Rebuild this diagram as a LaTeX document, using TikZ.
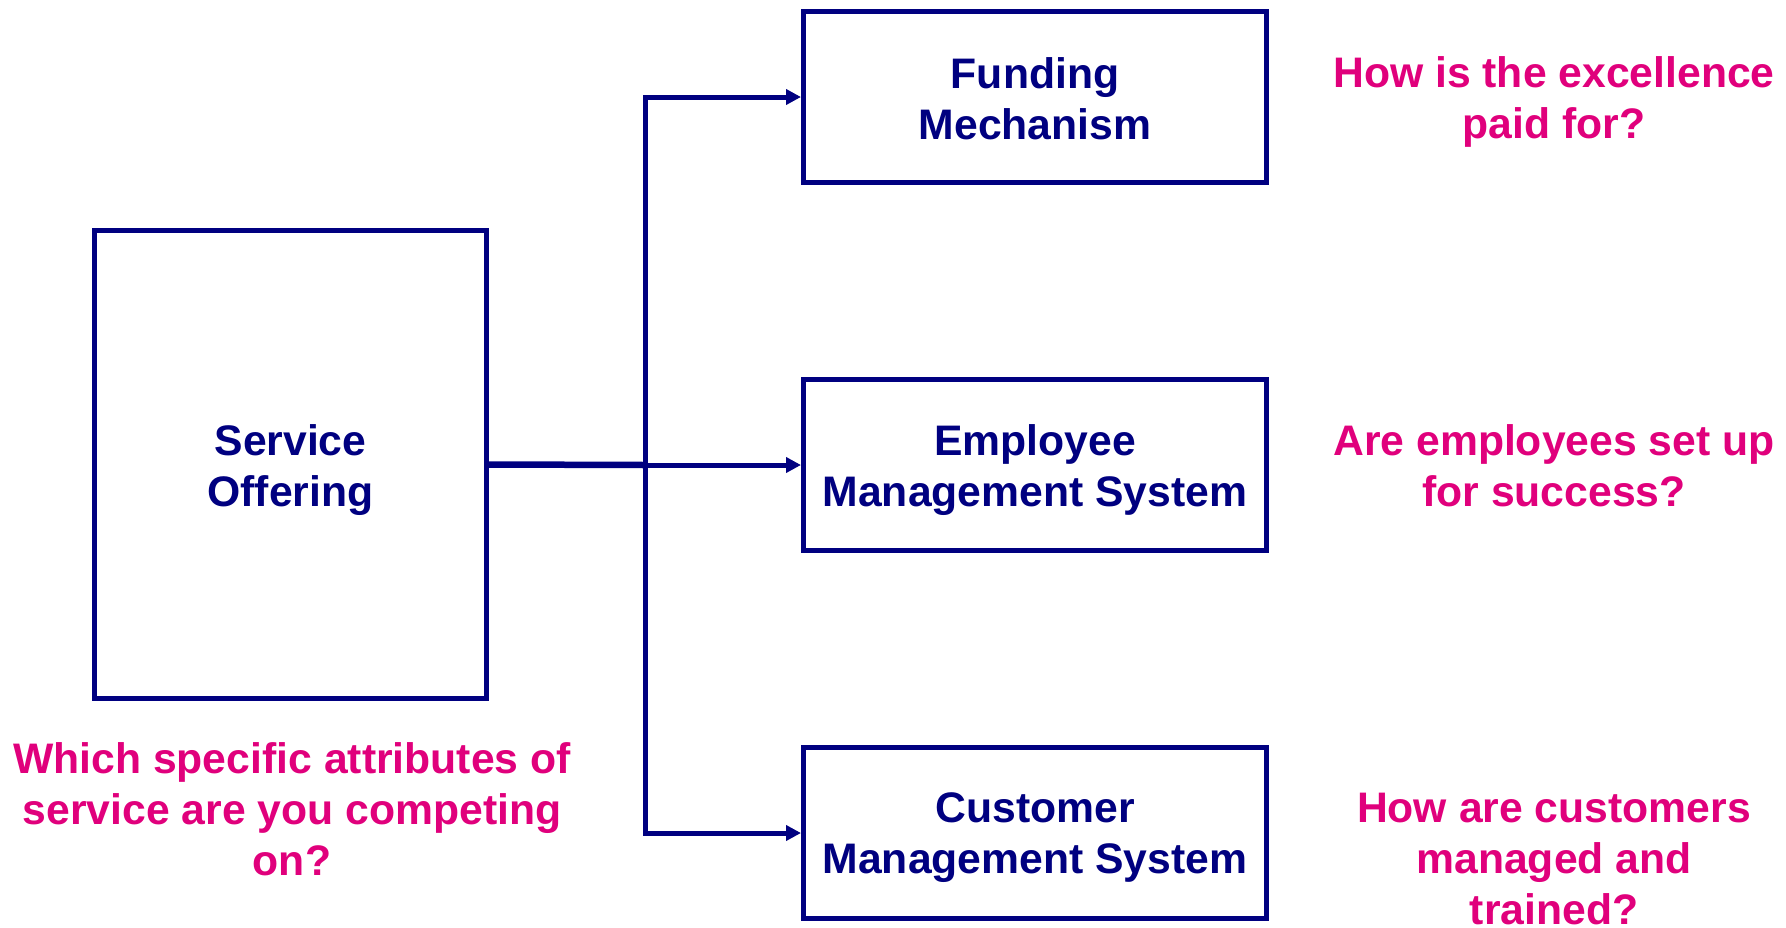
\documentclass[tikz,border=0pt]{standalone}
\usepackage{fontspec}
\setmainfont{Liberation Sans}
\usetikzlibrary{arrows.meta}
\definecolor{navyc}{RGB}{0,0,128}
\definecolor{pinkc}{RGB}{224,0,124}
\newcommand\lnA[1]{\hbox to 0pt{\hss#1\hss}}
\newcommand\twol[2]{\vtop{\baselineskip=51pt\lineskiplimit=-100pt\lnA{#1}\lnA{#2}}}
\newcommand\threel[3]{\vtop{\baselineskip=51pt\lineskiplimit=-100pt\lnA{#1}\lnA{#2}\lnA{#3}}}
\tikzset{
  boxnode/.style={draw=navyc, line width=5pt, rectangle, minimum width=463pt, minimum height=171pt, inner sep=0pt},
  boxtext/.style={text=navyc, font=\fontsize{42.7pt}{51pt}\selectfont\bfseries, inner sep=0pt, anchor=base},
  qtext/.style={text=pinkc, font=\fontsize{42.7pt}{51pt}\selectfont\bfseries, inner sep=0pt, anchor=base},
  conn/.style={draw=navyc, line width=5pt},
  arr/.style={conn, -{Triangle[length=15pt,width=15pt]}}
}
\begin{document}
\begin{tikzpicture}[x=1pt,y=-1pt]
\useasboundingbox (0,0) rectangle (1786,927);
% boxes
\node[boxnode, minimum width=392pt, minimum height=468pt] (svc) at (290.5,464.5) {};
\node[boxnode] (fund) at (1035,97) {};
\node[boxnode] (emp) at (1035,465) {};
\node[boxnode] (cust) at (1035,833) {};
% box texts
\node[boxtext] (svct) at (290.5,455) {\twol{Service}{Offering}};
\node[boxtext] (fundt) at (1035,88) {\twol{Funding}{Mechanism}};
\node[boxtext] (empt) at (1035,455) {\twol{Employee}{Management System}};
\node[boxtext] (custt) at (1035,822) {\twol{Customer}{Management System}};
% questions
\node[qtext] (q1) at (1554,87) {\twol{How is the excellence}{paid for?}};
\node[qtext] (q2) at (1554,455) {\twol{Are employees set up}{for success?}};
\node[qtext] (q3) at (1554,822) {\threel{How are customers}{managed and}{trained?}};
\node[qtext] (q0) at (292,773) {\threel{Which specific attributes of}{service are you competing}{on?}};
% connectors
\coordinate (j) at (645,465);
\draw[conn, line width=6.5pt] (svc.east) -- (j);
\draw[arr] (j) -- (emp.west);
\draw[arr] (j) |- (fund.west);
\draw[arr] (j) |- (cust.west);
\end{tikzpicture}
\end{document}
